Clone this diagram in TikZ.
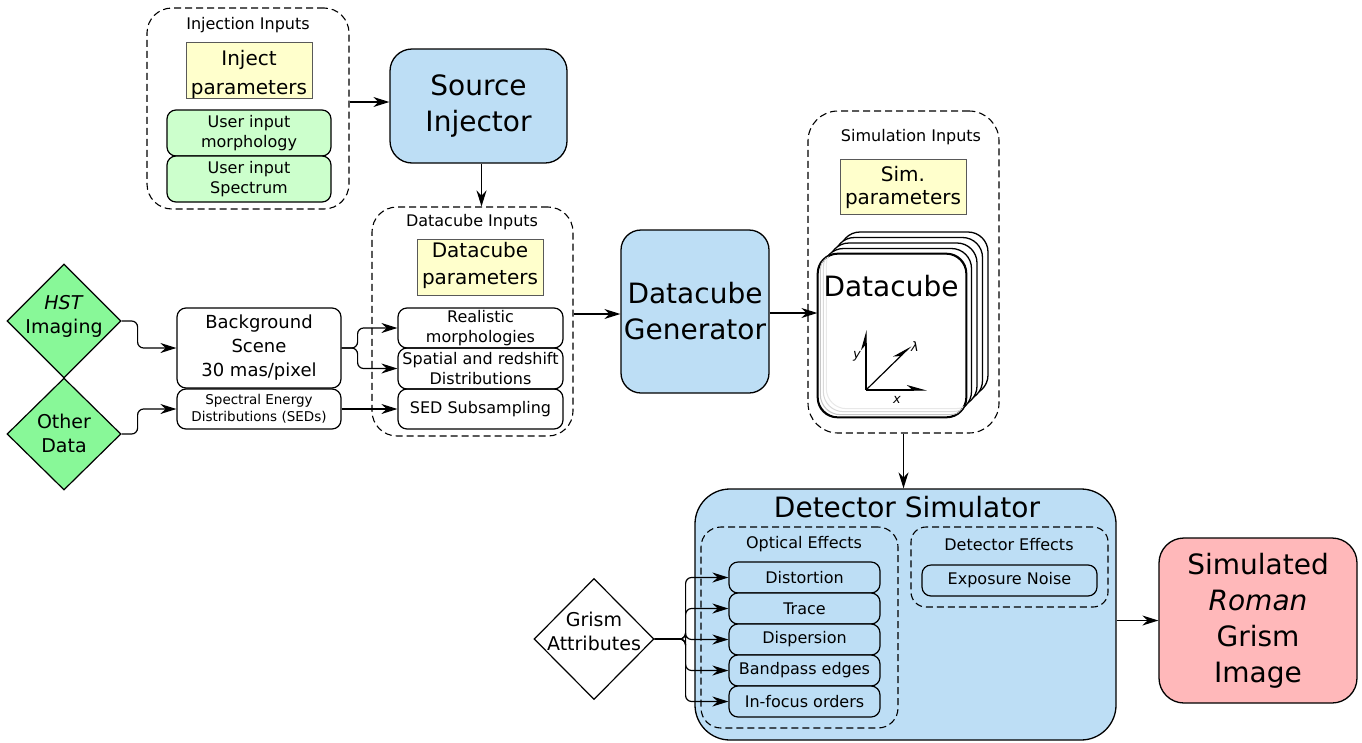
\documentclass[tikz,border=0pt]{standalone}
\usepackage{fontspec}
\setmainfont{DejaVu Sans}
\usetikzlibrary{shapes.geometric,arrows.meta,calc}
\definecolor{cblue}{RGB}{189,222,245}
\definecolor{cyellow}{RGB}{255,255,204}
\definecolor{clgreen}{RGB}{204,255,204}
\definecolor{cdgreen}{RGB}{136,248,152}
\definecolor{cpink}{RGB}{255,184,186}
\begin{document}
\begin{tikzpicture}[x=1pt,y=-1pt,
  sz/.style 2 args={minimum width=#1pt, minimum height=#2pt},
  box/.style={draw, line width=1.2pt, rounded corners=9pt, inner sep=0pt, align=center,
              font=\fontsize{16}{20}\selectfont},
  parbox/.style={draw=gray!70!black, fill=cyellow, line width=1pt, inner sep=0pt},
  partext/.style={align=center, inner sep=0pt},
  group/.style={draw, dash pattern=on 7pt off 4pt, line width=1.1pt, inner sep=0pt},
  bigbox/.style={draw, fill=cblue, line width=1.3pt, inner sep=0pt, align=center,
              font=\fontsize{28}{36}\selectfont},
  diam/.style={diamond, draw, line width=1.2pt, inner sep=0pt},
  dtext/.style={align=center, font=\fontsize{19}{24}\selectfont},
  grplabel/.style={font=\fontsize{16}{20}\selectfont},
  card/.style={draw, fill=white, line width=1.3pt, rounded corners=20pt, inner sep=0pt,
              minimum width=148pt, minimum height=163pt},
  arr/.style={-{Stealth[length=16pt,width=10pt]}, line width=1.2pt},
  axarr/.style={-{Stealth[harpoon,length=18pt,width=10pt]}, line width=1.2pt}
]
\useasboundingbox (0,0) rectangle (1362,742);

% ---------- injection inputs ----------
\node[group, rounded corners=25pt, sz={202}{201}] (inj) at (248,108.5) {};
\node[grplabel] (injlbl) at (248,25.5) {Injection Inputs};
\node[parbox, sz={126}{56}] (injpar) at (249,70) {};
\node[partext, font=\fontsize{20}{29}\selectfont] (injpartxt) at (249,74) {Inject\\parameters};
\node[box, fill=clgreen, sz={164}{46}] (uim) at (249,133) {User input\\morphology};
\node[box, fill=clgreen, sz={164}{46}] (uis) at (249,179) {User input\\Spectrum};

\node[bigbox, rounded corners=22pt, sz={177}{114}] (srcinj) at (478.5,106) {Source\\Injector};

% ---------- datacube inputs ----------
\node[group, rounded corners=25pt, sz={201}{229}] (dci) at (472.5,321.5) {};
\node[grplabel] (dcilbl) at (472,222.5) {Datacube Inputs};
\node[parbox, sz={126}{56}] (dcpar) at (480,267) {};
\node[partext, font=\fontsize{20}{27}\selectfont] (dcpartxt) at (480,265) {Datacube\\parameters};
\node[box, sz={165}{40}] (real) at (480.5,328) {Realistic\\morphologies};
\node[box, sz={165}{41}] (spat) at (480.5,368.5) {Spatial and redshift\\Distributions};
\node[box, sz={165}{40}] (sedsub) at (480.5,409) {SED Subsampling};

% ---------- data sources ----------
\node[diam, fill=cdgreen, sz={114}{114}] (hst) at (64,321) {};
\node[dtext] (hsttxt) at (64,316) {\textit{HST}\\Imaging};
\node[diam, fill=cdgreen, sz={114}{112}] (other) at (64,434) {};
\node[dtext] (othertxt) at (64,433) {Other\\Data};

\node[box, sz={164}{80}, font=\fontsize{18}{24}\selectfont] (bg) at (259,348) {Background\\Scene\\30 mas/pixel};
\node[box, sz={164}{40}, font=\fontsize{13.5}{17}\selectfont] (sed) at (259,409) {Spectral Energy\\Distributions (SEDs)};

% ---------- generator ----------
\node[bigbox, rounded corners=20pt, sz={148}{163}] (dcgen) at (695,311.5) {Datacube\\Generator};

% ---------- simulation inputs ----------
\node[group, rounded corners=30pt, sz={191}{322}] (simin) at (903.5,272) {};
\node[grplabel] (siminlbl) at (911,137.5) {Simulation Inputs};
\node[parbox, sz={126}{55}] (simpar) at (903,186.5) {};
\node[partext, font=\fontsize{20}{23}\selectfont] (simpartxt) at (903,187) {Sim.\\parameters};

\foreach \k in {4,3,2,1}
  \node[card] (card\k) at ({892+5.5*\k},{335.5-5.5*\k}) {};
\node[card] (cube) at (892,335.5) {};
\begin{scope}
  \clip[rounded corners=20pt] (cube.south west) rectangle (cube.north east);
  \foreach \k/\c in {1/45,2/30,3/18}
    \draw[gray!\c, line width=1pt, rounded corners=20pt]
      ([xshift=3*\k pt, yshift=3*\k pt]cube.south west) rectangle
      ([xshift=3*\k pt, yshift=3*\k pt]cube.north east);
\end{scope}
\draw[line width=1.3pt, rounded corners=20pt] (cube.south west) rectangle (cube.north east);
\node[font=\fontsize{28}{34}\selectfont] (cubetxt) at (891,286) {Datacube};
\coordinate (ax) at (866,390);
\draw[axarr] (ax) -- (866,330);
\draw[axarr] (ax) -- (927,390);
\draw[axarr] (ax) -- (911,346);
\node[font=\itshape\fontsize{13}{13}\selectfont] (ylab) at (857,356) {y};
\node[font=\itshape\fontsize{13}{13}\selectfont] (xlab) at (897,400) {x};
\node[font=\itshape\fontsize{13}{13}\selectfont] (llab) at (915,347) {λ};

% ---------- detector simulator ----------
\node[bigbox, rounded corners=35pt, sz={421}{251}] (detsim) at (905.5,614.5) {};
\node[font=\fontsize{28}{34}\selectfont] (detsimlbl) at (907,507) {Detector Simulator};
\node[group, rounded corners=20pt, sz={197}{201}] (opt) at (799.5,627.5) {};
\node[grplabel] (optlbl) at (804,544.5) {Optical Effects};
\node[group, rounded corners=15pt, sz={197}{80}] (deteff) at (1009.5,567) {};
\node[grplabel] (deteflbl) at (1009,544.5) {Detector Effects};
\node[box, fill=cblue, sz={175}{31}] (expn) at (1009.5,580.5) {Exposure Noise};

\node[box, fill=cblue, sz={151}{31}] (dist) at (804.5,577.5) {Distortion};
\node[box, fill=cblue, sz={151}{31}] (trace) at (804.5,608.5) {Trace};
\node[box, fill=cblue, sz={151}{31}] (disp) at (804.5,639.5) {Dispersion};
\node[box, fill=cblue, sz={151}{31}] (band) at (804.5,670.5) {Bandpass edges};
\node[box, fill=cblue, sz={151}{31}] (focus) at (804.5,701.5) {In-focus orders};

\node[diam, fill=white, sz={120}{121}] (grism) at (594,639) {};
\node[dtext] (grismtxt) at (594,631) {Grism\\Attributes};

\node[bigbox, fill=cpink, rounded corners=25pt, sz={198}{165}] (simout) at (1258,620.5)
  {Simulated\\\textit{Roman}\\Grism\\Image};

% ---------- connectors ----------
\draw[arr] ([yshift=6.5pt]inj.east) -- ([yshift=6.5pt]inj.east -| srcinj.west);
\draw[arr] ([xshift=3pt]srcinj.south) -- ([xshift=3pt]srcinj.south |- dci.north);
\draw[arr, rounded corners=6pt] (hst.east) -- ++(16,0) |- (bg.west);
\draw[arr, rounded corners=6pt] (other.east) -- ++(16,0) |- (sed.west);
\draw[arr, rounded corners=6pt] (bg.east) -- ++(16,0) |- (real.west);
\draw[arr, rounded corners=6pt] (bg.east) -- ++(16,0) |- (spat.west);
\draw[arr] (sed.east) -- (sedsub.west);
\draw[arr] (dci.east |- 0,314) -- (dcgen.west |- 0,314);
\draw[arr] (dcgen.east |- 0,313) -- (cube.west |- 0,313);
\draw[arr] (simin.south) -- (simin.south |- detsim.north);
\foreach \b in {dist,trace,disp,band,focus}
  \draw[arr, rounded corners=6pt] (grism.east) -- ++(31,0) |- (\b.west);
\draw[arr] (detsim.east |- simout.west) -- (simout.west);
\end{tikzpicture}
\end{document}
